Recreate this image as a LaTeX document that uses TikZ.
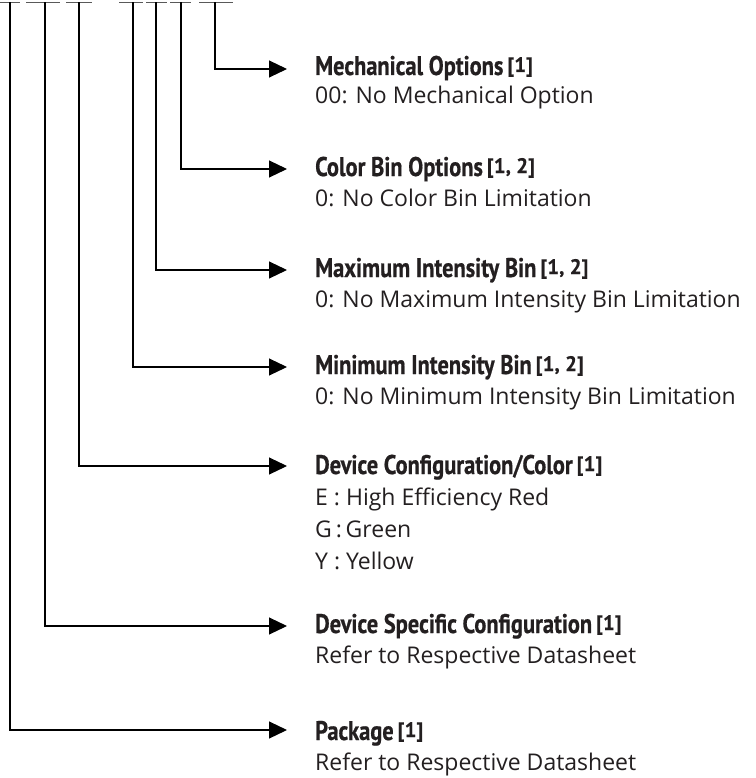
\documentclass[tikz,border=0pt]{standalone}
\usepackage{fontspec}
\setmainfont{Open Sans}
\newfontfamily\titlefont{PT Sans Bold}[FakeStretch=0.83,FakeBold=0.6]
\newfontfamily\markfont{PT Sans Bold}[FakeBold=0.4]
\usetikzlibrary{arrows.meta}
\newcommand\refmark[1]{\hspace{4pt}\raisebox{3pt}{\markfont\fontsize{21}{21}\selectfont[#1]}}
\definecolor{ink}{HTML}{231F20}
\begin{document}
\begin{tikzpicture}[x=1pt,y=-1pt,
  conn/.style={line width=1.1pt, draw=black, -{Triangle[length=18pt,width=17pt]}},
  dashline/.style={line width=1.8pt, draw=black!65},
  ttl/.style={anchor=base west, inner sep=0pt, font=\titlefont\fontsize{27}{27}\selectfont, text=ink},
  sub/.style={anchor=base west, inner sep=0pt, font=\fontsize{23}{30}\selectfont, text=ink}]
\useasboundingbox (0,0) rectangle (755,778);

% top dashes (character positions)
\draw[dashline] (0,2.5) -- (20,2.5);
\draw[dashline] (26,2.5) -- (60,2.5);
\draw[dashline] (66,2.5) -- (92,2.5);
\draw[dashline] (119,2.5) -- (143,2.5);
\draw[dashline] (146,2.5) -- (167,2.5);
\draw[dashline] (170,2.5) -- (191,2.5);
\draw[dashline] (199,2.5) -- (233,2.5);

% tick tops
\coordinate (t1) at (10,2.5);
\coordinate (t2) at (45,2.5);
\coordinate (t3) at (79,2.5);
\coordinate (t4) at (133,2.5);
\coordinate (t5) at (156,2.5);
\coordinate (t6) at (181,2.5);
\coordinate (t7) at (215,2.5);

% arrow tips
\coordinate (a1) at (287,730);
\coordinate (a2) at (287,626);
\coordinate (a3) at (287,466);
\coordinate (a4) at (287,367);
\coordinate (a5) at (287,270);
\coordinate (a6) at (287,169);
\coordinate (a7) at (287,69);

\draw[conn] (t7) |- (a7);
\draw[conn] (t6) |- (a6);
\draw[conn] (t5) |- (a5);
\draw[conn] (t4) |- (a4);
\draw[conn] (t3) |- (a3);
\draw[conn] (t2) |- (a2);
\draw[conn] (t1) |- (a1);

% labels
\node[ttl] (h7) at (315,75) {Mechanical Options\refmark{1}};
\node[sub] (s7) at (315,104) {00: No Mechanical Option};

\node[ttl] (h6) at (315,176) {Color Bin Options\refmark{1, 2}};
\node[sub] (s6) at (315,206) {0: No Color Bin Limitation};

\node[ttl] (h5) at (315,277) {Maximum Intensity Bin\refmark{1, 2}};
\node[sub] (s5) at (315,307) {0: No Maximum Intensity Bin Limitation};

\node[ttl] (h4) at (315,374) {Minimum Intensity Bin\refmark{1, 2}};
\node[sub] (s4) at (315,404) {0: No Minimum Intensity Bin Limitation};

\node[ttl] (h3) at (315,474) {Device Configuration/Color\refmark{1}};
\node[sub] (s3a) at (315,505) {E : High Efficiency Red};
\node[sub] (s3b) at (315,537) {G\,:\,Green};
\node[sub] (s3c) at (315,569) {Y : Yellow};

\node[ttl] (h2) at (315,633) {Device Specific Configuration\refmark{1}};
\node[sub] (s2) at (315,663) {Refer to Respective Datasheet};

\node[ttl] (h1) at (315,740) {Package\refmark{1}};
\node[sub] (s1) at (315,770) {Refer to Respective Datasheet};
\end{tikzpicture}
\end{document}
